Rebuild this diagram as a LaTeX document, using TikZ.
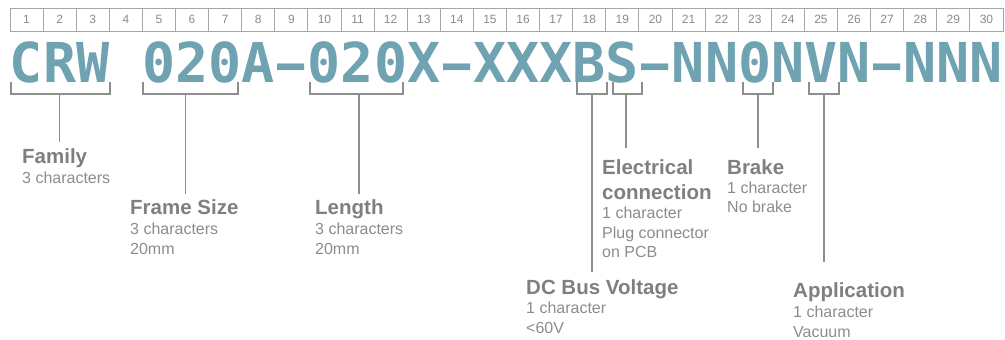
\documentclass[tikz,border=0pt]{standalone}
\usepackage{fontspec}
\setmainfont{Liberation Sans}
\newfontfamily\codefont{DejaVu Sans Mono}
\definecolor{codeteal}{HTML}{6FA3B1}
\definecolor{cellgray}{HTML}{A6A6A6}
\definecolor{numgray}{HTML}{8A8A8A}
\definecolor{titlegray}{HTML}{7F7F7F}
\definecolor{descgray}{HTML}{8C8C8C}
\definecolor{linegray}{HTML}{8E8E8E}
\newcommand{\cdash}{\scalebox{0.82}[1]{–}}
\begin{document}
\begin{tikzpicture}[x=1pt,y=-1pt,
  cell/.style={draw=cellgray, line width=0.9pt, minimum width=33.1pt, minimum height=23.5pt, inner sep=0pt, text=numgray, font=\fontsize{12}{13}\selectfont},
  codech/.style={anchor=base, inner sep=0pt, text=codeteal, font=\codefont\bfseries\fontsize{55}{60}\selectfont},
  ttl/.style={anchor=base west, inner sep=0pt, text=titlegray, font=\bfseries\fontsize{20.5}{24}\selectfont},
  dsc/.style={anchor=base west, inner sep=0pt, text=descgray, font=\fontsize{16}{19}\selectfont},
  brk/.style={draw=linegray, line width=1.4pt},
  stem/.style={draw=linegray, line width=1.4pt}
]
\useasboundingbox (0,0) rectangle (1005,340);
% number cells
\foreach \i in {1,...,30} {
  \node[cell] (c\i) at ({10+33.1*(\i-0.5)}, 19.75) {\i};
}
% code characters
\foreach \i/\ch in {1/C,2/R,3/W,5/0,6/2,7/0,8/A,9/\cdash,10/0,11/2,12/0,13/X,14/\cdash,15/X,16/X,17/X,18/B,19/S,20/\cdash,21/N,22/N,23/0,24/N,25/V,26/N,27/\cdash,28/N,29/N,30/N} {
  \node[codech] (k\i) at ({10+33.1*(\i-0.5)}, 82) {\ch};
}
% brackets: start x, end x
\foreach \n/\a/\b in {fam/11/110, frm/143/238, len/310/403, dcb/577/607, ele/613/642, brk/743/773, app/809/839} {
  \draw[brk] (\a,82) -- (\a,94) -- (\b,94) -- (\b,82);
  \coordinate (\n-top) at ({(\a+\b)/2},94);
}
% stem ends
\coordinate (fam-end) at (59.5,142);
\coordinate (frm-end) at (185.5,194);
\coordinate (len-end) at (359,194);
\coordinate (dcb-end) at (592,272);
\coordinate (ele-end) at (626,148);
\coordinate (brk-end) at (758,148);
\coordinate (app-end) at (824,262);
\foreach \n in {fam,frm,len,dcb,ele,brk,app} {
  \draw[stem] (\n-end |- \n-top) -- (\n-end);
}
% labels
\node[ttl] (famT) at (22,163) {Family};
\node[dsc] (famD1) at (22,183) {3 characters};

\node[ttl] (frmT) at (130,214) {Frame Size};
\node[dsc] (frmD1) at (130,234) {3 characters};
\node[dsc] (frmD2) at (130,254) {20mm};

\node[ttl] (lenT) at (315,214) {Length};
\node[dsc] (lenD1) at (315,234) {3 characters};
\node[dsc] (lenD2) at (315,254) {20mm};

\node[ttl] (eleT) at (602,174) {Electrical};
\node[ttl] (eleT2) at (602,199) {connection};
\node[dsc] (eleD1) at (602,218.5) {1 character};
\node[dsc] (eleD2) at (602,238) {Plug connector};
\node[dsc] (eleD3) at (602,257.5) {on PCB};

\node[ttl] (brkT) at (727,174) {Brake};
\node[dsc] (brkD1) at (727,193) {1 character};
\node[dsc] (brkD2) at (727,212) {No brake};

\node[ttl] (dcbT) at (526,294) {DC Bus Voltage};
\node[dsc] (dcbD1) at (526,313) {1 character};
\node[dsc] (dcbD2) at (526,333) {<60V};

\node[ttl] (appT) at (793,297) {Application};
\node[dsc] (appD1) at (793,317) {1 character};
\node[dsc] (appD2) at (793,337) {Vacuum};
\end{tikzpicture}
\end{document}
